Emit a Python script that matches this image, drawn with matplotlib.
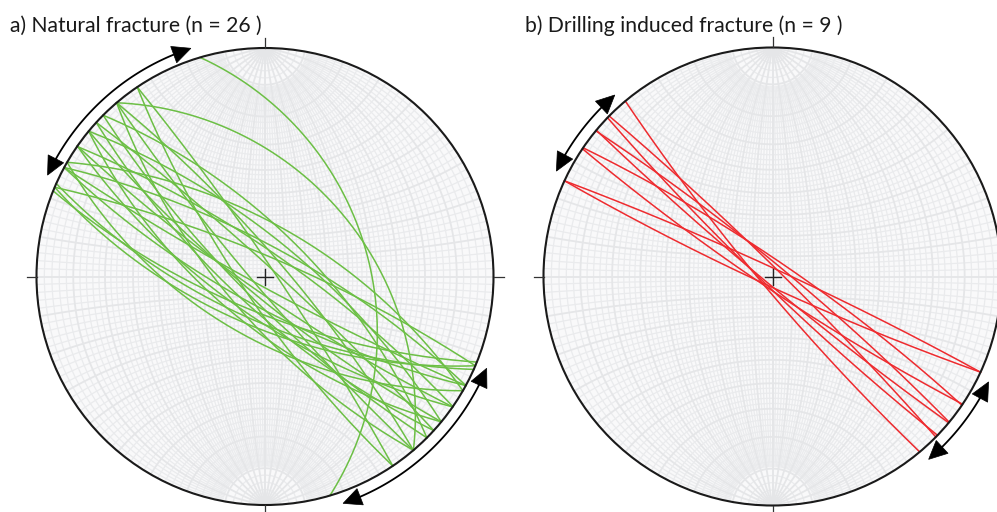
import numpy as np
import matplotlib.pyplot as plt
from matplotlib.collections import LineCollection
from matplotlib.patches import Circle, Polygon

W, H = 997, 512

# natural fractures: strike (right hand rule, degrees) and dip (degrees)
nat_strike = [343.5, 319.5, 113, 114, 112, 293, 118.5, 298.5, 118.5, 124.8, 304.7, 124.8, 129.5,
              309.5, 129.5, 312.4, 132.4, 314.9, 134.9, 139.5, 319.5, 139.5, 146, 326, 120, 300]
nat_dip = [41, 43, 65, 68, 72, 80, 75, 75, 85, 70, 78, 82, 66,
           72, 80, 85, 74, 68, 78, 70, 80, 84, 78, 85, 60, 65]

# drilling induced fractures
dif_strike = [114.7, 294.7, 123.9, 304.2, 129.7, 309.5, 133.9, 314.5, 140.0]
dif_dip = [85, 86, 84, 82, 86, 84, 85, 86, 84]

# range of the strike spread marked by the curved arrows (azimuths)
nat_arrows = [(342, 295), (112.5, 161)]
dif_arrows = [(319, 296), (116, 139.5)]

titles = ["a) Natural fracture (n = 26 )", "b) Drilling induced fracture (n = 9 )"]


def project(v):
    # lower hemisphere, equal angle (Wulff); v columns = north, east, down
    return v[:, 1] / (1 + v[:, 2]), v[:, 0] / (1 + v[:, 2])


def plane_vectors(strike, dip, npts=181):
    s = np.radians(strike)
    dp = np.radians(dip)
    r = np.linspace(0, np.pi, npts)
    sv = np.array([np.cos(s), np.sin(s), 0.0])
    dv = np.array([np.cos(dp) * np.cos(s + np.pi / 2), np.cos(dp) * np.sin(s + np.pi / 2), np.sin(dp)])
    return np.outer(np.cos(r), sv) + np.outer(np.sin(r), dv)


def cone_vectors(alpha, npts=181):
    a = np.radians(alpha)
    ph = np.linspace(0, np.pi, npts)
    return np.column_stack([np.full(npts, np.cos(a)), np.sin(a) * np.cos(ph), np.sin(a) * np.sin(ph)])


def draw_net(ax):
    ax.add_patch(Circle((0, 0), 1, fc='#f9f9fa', ec='none', zorder=0))
    minor, major = [], []
    for d in range(2, 91, 2):
        for st in (0, 180):
            v = plane_vectors(st, d, 361)
            x, y = project(v)
            if d % 10:
                keep = np.abs(v[:, 0]) < np.sin(np.radians(80))
                x, y = x[keep], y[keep]
                minor.append(np.column_stack([x, y]))
            else:
                major.append(np.column_stack([x, y]))
    for a in range(2, 90, 2):
        for sgn in (1, -1):
            v = cone_vectors(a, 181)
            v[:, 0] *= sgn
            x, y = project(v)
            (major if a % 10 == 0 else minor).append(np.column_stack([x, y]))
    major.append(np.array([[-1, 0], [1, 0]]))
    ax.add_collection(LineCollection(minor, colors='#eaebed', linewidths=0.9, zorder=1))
    ax.add_collection(LineCollection(major, colors='#e5e6e8', linewidths=1.3, zorder=1))


def draw_arrow(ax, az1, az2, rad=1.05, hl=0.08, hw=0.038):
    sgn = np.sign(az2 - az1)
    dl = np.degrees(hl / rad)
    t = np.radians(np.linspace(az1 + sgn * dl, az2 - sgn * dl, 100))
    ax.plot(rad * np.sin(t), rad * np.cos(t), color='black', lw=1.3, zorder=4, clip_on=False)
    for end, back in ((az1, az1 + sgn * dl), (az2, az2 - sgn * dl)):
        b = np.radians(back)
        bp = np.array([rad * np.sin(b), rad * np.cos(b)])
        tip_dir = np.array([np.sin(np.radians(end)), np.cos(np.radians(end))]) * rad - bp
        tip_dir /= np.linalg.norm(tip_dir)
        nrm = np.array([-tip_dir[1], tip_dir[0]])
        tip = bp + tip_dir * hl
        tri = [tip, bp + nrm * hw, bp - nrm * hw]
        ax.add_patch(Polygon(tri, closed=True, fc='black', ec='black', lw=0.5, zorder=4, clip_on=False))


def stereonet(cx, cy, R, strikes, dips, color, arrows):
    L = 1.2
    ax = fig.add_axes([(cx - L * R) / W, (H - cy - L * R) / H, 2 * L * R / W, 2 * L * R / H])
    ax.set_xlim(-L, L)
    ax.set_ylim(-L, L)
    ax.axis('off')
    draw_net(ax)
    for s, d in zip(strikes, dips):
        x, y = project(plane_vectors(s, d))
        ax.plot(x, y, color=color, lw=1.1, zorder=3)
    ax.add_patch(Circle((0, 0), 1, fc='none', ec='#1a1a1a', lw=1.5, zorder=5))
    tk = 10 / R
    ax.plot([0, 0], [1, 1 + tk], color='#333333', lw=0.9, zorder=5, clip_on=False)
    ax.plot([0, 0], [-1, -1 - tk], color='#333333', lw=0.9, zorder=5, clip_on=False)
    ax.plot([1, 1 + tk], [0, 0], color='#333333', lw=0.9, zorder=5, clip_on=False)
    ax.plot([-1, -1 - tk], [0, 0], color='#333333', lw=0.9, zorder=5, clip_on=False)
    c = 8 / R
    ax.plot([-c, c], [0, 0], color='#222222', lw=1.0, zorder=5)
    ax.plot([0, 0], [-c, c], color='#222222', lw=1.0, zorder=5)
    for a1, a2 in arrows:
        draw_arrow(ax, a1, a2)
    return ax


fig = plt.figure(figsize=(W / 100, H / 100), dpi=100)
stereonet(265, 276.5, 228.5, nat_strike, nat_dip, '#6cbf45', nat_arrows)
stereonet(772.5, 276.5, 229, dif_strike, dif_dip, '#ee2b2f', dif_arrows)

fig.text(10 / W, 1 - 32 / H, titles[0], fontsize=15.2, family='Lato', va='baseline', color='#1a1a1a')
fig.text(525 / W, 1 - 32 / H, titles[1], fontsize=15.2, family='Lato', va='baseline', color='#1a1a1a')

fig.savefig('out.png', dpi=100)
